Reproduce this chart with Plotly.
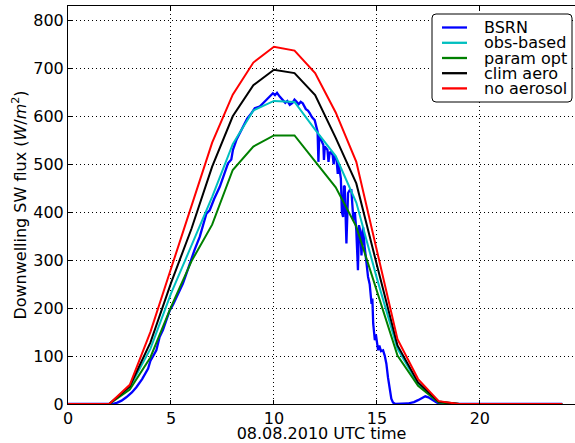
import plotly.graph_objects as go

# ---- data ----
hours = list(range(25))
obs_based = [0, 0, 0, 35, 115, 230, 330, 432, 542, 612, 632, 630, 572, 517, 420, 262, 115, 42, 4, 0, 0, 0, 0, 0, 0]
param_opt = [0, 0, 0, 30, 97, 202, 298, 374, 488, 537, 560, 560, 505, 452, 370, 234, 101, 38, 3, 0, 0, 0, 0, 0, 0]
clim_aero = [0, 0, 0, 37, 128, 252, 366, 495, 600, 665, 697, 690, 644, 555, 460, 290, 122, 45, 5, 0, 0, 0, 0, 0, 0]
no_aerosol = [0, 0, 0, 40, 150, 282, 415, 545, 645, 712, 745, 737, 690, 608, 505, 320, 135, 52, 6, 0, 0, 0, 0, 0, 0]

bsrn_t = [0, 2.15, 2.4, 2.6, 2.83, 3.1, 3.32, 3.6, 3.89, 4.0, 4.29, 4.45, 4.61, 4.8, 4.94,
          5.1, 5.3, 5.58, 5.75, 5.91, 6.15, 6.4, 6.6, 6.72, 6.88, 7.1, 7.37, 7.6, 7.77, 7.93,
          8.01, 8.18, 8.35, 8.5, 8.7, 8.9, 9.07, 9.3, 9.5, 9.64, 9.8, 9.95, 10.05, 10.15, 10.28,
          10.4, 10.55, 10.65, 10.77, 10.9, 11.0, 11.09, 11.2, 11.3, 11.4, 11.55, 11.65, 11.73,
          11.85, 11.98, 12.05, 12.12, 12.16, 12.2, 12.3, 12.4, 12.43, 12.47, 12.6, 12.65, 12.71,
          12.85, 12.9, 12.95, 13.04, 13.1, 13.15, 13.25, 13.3, 13.36, 13.4, 13.44, 13.52, 13.6,
          13.68, 13.76, 13.86, 13.93, 14.0, 14.08, 14.13, 14.2, 14.25, 14.33, 14.4, 14.49, 14.57,
          14.65, 14.74, 14.78, 14.82, 14.9, 14.95, 15.06, 15.12, 15.2, 15.3, 15.38, 15.46, 15.54,
          15.62, 15.7, 15.78, 15.9, 16.5, 16.8, 17.0, 17.2, 17.35, 17.5, 17.73, 17.9, 18.1, 24]
bsrn_v = [0, 0, 3, 7, 14, 24, 35, 52, 74, 90, 112, 140, 154, 178, 195,
          207, 225, 251, 272, 293, 322, 349, 380, 397, 404, 428, 453, 480, 502, 510,
          530, 551, 566, 578, 595, 606, 617, 620, 628, 634, 640, 648, 644, 649, 641,
          635, 628, 632, 624, 628, 635, 631, 625, 630, 627, 615, 612, 607,
          598, 592, 580, 568, 505, 560, 550, 540, 509, 537, 530, 505, 526,
          520, 500, 518, 510, 480, 500, 470, 400, 390, 455, 453, 335, 440,
          446, 446, 383, 400, 362, 279, 373, 360, 310, 369, 330, 293, 265,
          250, 209, 220, 168, 133, 145, 112, 122, 110, 112, 101, 84, 55,
          35, 11, 3, 0, 1, 4, 8, 13, 16, 14, 7, 3, 0, 0]

names = ["BSRN", "obs-based", "param opt", "clim aero", "no aerosol"]
colors = ["#0000ff", "#00bfbf", "#008000", "#000000", "#ff0000"]
x_ticks = [0, 5, 10, 15, 20]
y_ticks = [0, 100, 200, 300, 400, 500, 600, 700, 800]

# ---- figure ----
W, H = 575, 443
L, R, T, B = 68, 0, 6, 39
pw, ph = W - L - R, H - T - B

fig = go.Figure()
fig.add_trace(go.Scatter(x=bsrn_t, y=bsrn_v, mode="lines", name=names[0],
                         line=dict(color=colors[0], width=2.3)))
series = [obs_based, param_opt, clim_aero, no_aerosol]
for i, s in enumerate(series, start=1):
    fig.add_trace(go.Scatter(x=hours, y=s, mode="lines", name=names[i],
                             line=dict(color=colors[i], width=2)))

axis_common = dict(ticks="inside", ticklen=4, tickcolor="black", tickwidth=1,
                   showline=True, linecolor="black", linewidth=1,
                   showgrid=True, gridcolor="black", gridwidth=1, griddash="1px,3px",
                   zeroline=False, automargin=False,
                   tickfont=dict(family="DejaVu Sans", size=16, color="black"))

fig.update_xaxes(range=[0, 24.62], tickvals=x_ticks, mirror="ticks",
                 title=dict(text="08.08.2010 UTC time", standoff=7,
                            font=dict(family="DejaVu Sans", size=16, color="black")),
                 **axis_common)
fig.update_yaxes(range=[0, 830], tickvals=y_ticks, mirror=False,
                 title=dict(text="Downwelling SW flux (<i>W</i>/<i>m</i><sup>2</sup>)", standoff=2,
                            font=dict(family="DejaVu Sans", size=16, color="black")),
                 **axis_common)


def px(xp):
    return (xp - L) / pw


def py(yp):
    return (H - B - yp) / ph


# manual legend
x0, x1, y0, y1, r = 432, 572, 14, 102, 4
path = (f"M {px(x0 + r)},{py(y0)} L {px(x1 - r)},{py(y0)} Q {px(x1)},{py(y0)} {px(x1)},{py(y0 + r)} "
        f"L {px(x1)},{py(y1 - r)} Q {px(x1)},{py(y1)} {px(x1 - r)},{py(y1)} "
        f"L {px(x0 + r)},{py(y1)} Q {px(x0)},{py(y1)} {px(x0)},{py(y1 - r)} "
        f"L {px(x0)},{py(y0 + r)} Q {px(x0)},{py(y0)} {px(x0 + r)},{py(y0)} Z")
fig.add_shape(type="path", path=path, xref="paper", yref="paper",
              line=dict(color="black", width=1), fillcolor="white", layer="above")
rows = [27.5, 42.8, 58.0, 73.2, 88.4]
for name, col, ry in zip(names, colors, rows):
    fig.add_shape(type="line", xref="paper", yref="paper",
                  x0=px(442), x1=px(467), y0=py(ry), y1=py(ry),
                  line=dict(color=col, width=2.3), layer="above")
    fig.add_annotation(x=px(482), y=py(ry), xref="paper", yref="paper", text=name,
                       showarrow=False, xanchor="left", yanchor="middle",
                       font=dict(family="DejaVu Sans", size=16, color="black"))

fig.update_layout(width=W, height=H, margin=dict(l=L, r=R, t=T, b=B),
                  plot_bgcolor="white", paper_bgcolor="white", showlegend=False,
                  hovermode=False,
                  font=dict(family="DejaVu Sans", size=16, color="black"))

fig.write_html("out.html", config={"displayModeBar": False},
               post_script="document.body.style.margin='0';document.body.style.padding='0';")
